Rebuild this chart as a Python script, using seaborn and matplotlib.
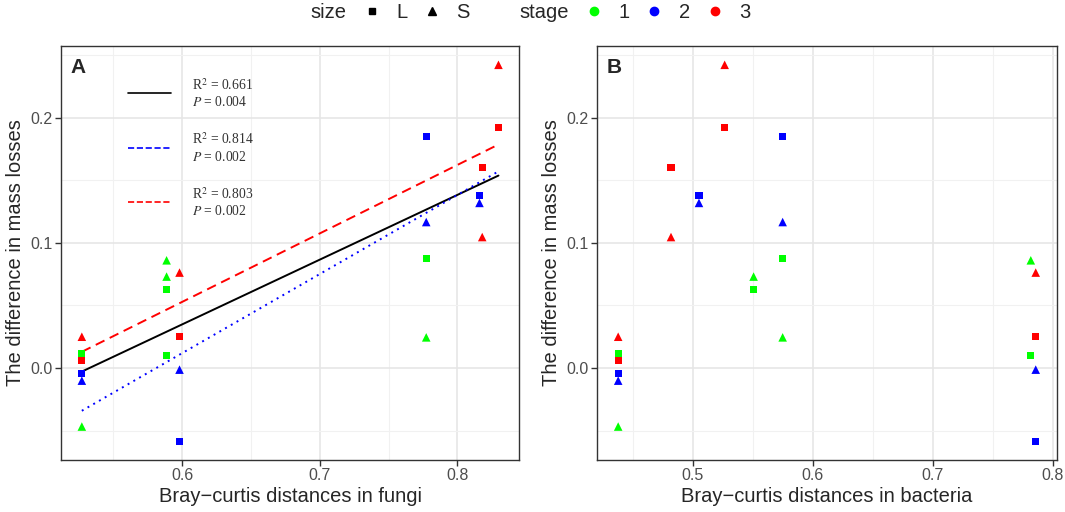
import numpy as np
import pandas as pd
import matplotlib.pyplot as plt
from matplotlib.lines import Line2D
import seaborn as sns

# values (24 litter bags: 3 stages x 2 sizes x 4 sites)
stage = ['1'] * 8 + ['2'] * 8 + ['3'] * 8
size = (['L'] * 4 + ['S'] * 4) * 3
fungi_dist = [0.527, 0.5886, 0.5886, 0.7773, 0.527, 0.5886, 0.5886, 0.7773,
              0.527, 0.598, 0.7773, 0.816, 0.527, 0.598, 0.7773, 0.816,
              0.527, 0.598, 0.8298, 0.818, 0.527, 0.598, 0.8298, 0.818]
bacteria_dist = [0.438, 0.5508, 0.7817, 0.575, 0.438, 0.5508, 0.7817, 0.575,
                 0.438, 0.7858, 0.575, 0.5053, 0.438, 0.7858, 0.575, 0.5053,
                 0.438, 0.7858, 0.5267, 0.482, 0.438, 0.7858, 0.5267, 0.482]
mass_diff = [0.0112, 0.063, 0.0098, 0.0875, -0.0468, 0.0731, 0.0861, 0.0245,
             -0.0043, -0.0585, 0.1853, 0.1382, -0.0101, -0.0013, 0.1167, 0.132,
             0.0058, 0.025, 0.1922, 0.160, 0.025, 0.0763, 0.2424, 0.1047]

fit_labels = ['R$^2$ = 0.661\n$P$ = 0.004',
              'R$^2$ = 0.814\n$P$ = 0.002',
              'R$^2$ = 0.803\n$P$ = 0.002']

df = pd.DataFrame({'stage': stage, 'size': size, 'fungi': fungi_dist,
                   'bacteria': bacteria_dist, 'diff': mass_diff})

stage_colors = {'1': '#00FF00', '2': '#0000FF', '3': '#FF0000'}
size_markers = {'L': ('s', 26), 'S': ('^', 38)}

sns.set_style('white')
plt.rcParams['font.family'] = ['Liberation Sans', 'DejaVu Sans']
plt.rcParams['mathtext.fontset'] = 'stix'

fig = plt.figure(figsize=(10.65, 5.12), dpi=100)
ax1 = fig.add_axes([61 / 1065, 52 / 512, 458.3 / 1065, 414 / 512])
ax2 = fig.add_axes([597.3 / 1065, 52 / 512, 459.3 / 1065, 414 / 512])


def expand(vals, frac=0.05):
    # ggplot style 5% padding around the data range
    lo, hi = min(vals), max(vals)
    r = hi - lo
    return lo - frac * r, hi + frac * r


def style_axes(ax, xvals, xmajor, xlabel):
    ax.set_xlim(*expand(xvals))
    ax.set_ylim(*expand(mass_diff))
    ax.set_xticks(xmajor)
    ax.set_xticks([v + 0.05 for v in xmajor[:-1]] + [xmajor[0] - 0.05], minor=True)
    ax.set_yticks([0.0, 0.1, 0.2])
    ax.set_yticks([-0.05, 0.05, 0.15, 0.25], minor=True)
    ax.set_yticklabels(['0.0', '0.1', '0.2'])
    ax.set_xticklabels([f'{v:.1f}' for v in xmajor])
    ax.grid(which='major', color='#E6E6E6', lw=1.2)
    ax.grid(which='minor', color='#F1F1F1', lw=0.8)
    ax.set_axisbelow(True)
    ax.tick_params(which='major', length=4, width=1, color='#333333',
                   labelsize=11.5, labelcolor='#4D4D4D', pad=2, bottom=True, left=True)
    ax.tick_params(which='minor', length=0)
    for sp in ax.spines.values():
        sp.set_color('#333333')
        sp.set_linewidth(1.0)
    ax.set_xlabel(xlabel, fontsize=14.5, labelpad=3)
    ax.set_ylabel('The difference in mass losses', fontsize=14.5, labelpad=4)


for ax, col in [(ax1, 'fungi'), (ax2, 'bacteria')]:
    for sz, (mk, s) in size_markers.items():
        sns.scatterplot(data=df[df['size'] == sz], x=col, y='diff', hue='stage',
                        palette=stage_colors, marker=mk, s=s, linewidth=0,
                        legend=False, ax=ax, zorder=3)

# regression lines in panel A: all bags, stage 2, stage 3
xs = np.array([min(fungi_dist), max(fungi_dist)])
fits = [(df, 'black', '-', '-'),
        (df[df['stage'] == '2'], '#0000FF', (0, (1, 2.4)), '--'),
        (df[df['stage'] == '3'], '#FF0000', (0, (5, 3)), '--')]
fit_handles = []
for sub, color, ls, leg_ls in fits:
    k, b = np.polyfit(sub['fungi'], sub['diff'], 1)
    ax1.plot(xs, k * xs + b, color=color, ls=ls, lw=1.4, zorder=2)
    fit_handles.append(Line2D([], [], color=color, ls=leg_ls, lw=1.2))

style_axes(ax1, fungi_dist, [0.6, 0.7, 0.8], 'Bray\u2212curtis distances in fungi')
style_axes(ax2, bacteria_dist, [0.5, 0.6, 0.7, 0.8], 'Bray\u2212curtis distances in bacteria')

ax1.legend(fit_handles, fit_labels, loc='upper left', bbox_to_anchor=(0.146, 0.925),
           frameon=False, borderpad=0, borderaxespad=0, handlelength=3.2,
           handletextpad=1.5, labelspacing=1.65, labelcolor='#333333',
           prop={'family': 'Liberation Serif', 'size': 9.8})

ax1.text(0.02, 0.97, 'A', transform=ax1.transAxes, fontsize=15,
         fontweight='bold', va='top', ha='left')
ax2.text(0.02, 0.97, 'B', transform=ax2.transAxes, fontsize=15,
         fontweight='bold', va='top', ha='left')

# top legend: size then stage
blank = Line2D([], [], ls='none', marker=None)
handles = [blank,
           Line2D([], [], ls='none', marker='s', color='black', markersize=5),
           Line2D([], [], ls='none', marker='^', color='black', markersize=6),
           blank]
labels = ['size', 'L', 'S', 'stage']
for st, c in stage_colors.items():
    handles.append(Line2D([], [], ls='none', marker='o', color=c, markersize=6))
    labels.append(st)
fig.legend(handles, labels, loc='center', bbox_to_anchor=(0.484, 0.976), ncol=7,
           frameon=False, fontsize=14.5, handlelength=0.6, handletextpad=0.9,
           columnspacing=0.95, borderpad=0)

fig.savefig('out.png', dpi=100)
